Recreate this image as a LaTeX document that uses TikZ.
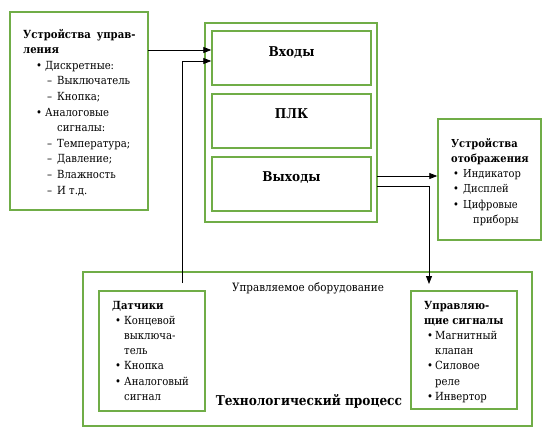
\documentclass[tikz,border=0pt]{standalone}
\usepackage{fontspec}
\IfFontExistsTF{DejaVu Serif Condensed}
 {\setmainfont{DejaVu Serif Condensed}}
 {\setmainfont{DejaVu Serif}}
\usetikzlibrary{arrows.meta}
\definecolor{gr}{HTML}{70AD47}
\newcommand\Lb{\hspace*{13pt}\makebox[9pt][l]{•}}
\newcommand\Ld{\hspace*{24pt}\makebox[10pt][l]{–}}
\newcommand\Bl[2]{\hspace*{#1}\makebox[#2][l]{•}}
\tikzset{
  box/.style={draw=gr, line width=1.4pt, inner sep=0pt},
  arr/.style={line width=0.8pt, -{Triangle[length=8pt,width=6pt]}},
  big/.style={font=\fontsize{13.5}{16}\selectfont\bfseries},
  lst/.style={anchor=base west, inner sep=0pt},
}
\begin{document}
\begin{tikzpicture}[x=1pt,y=-1pt]
\useasboundingbox (0,0) rectangle (550,429);
% boxes
\node[box, minimum width=138pt, minimum height=198pt] (left) at (79,111) {};
\node[box, minimum width=172pt, minimum height=199pt] (plc) at (291,122.5) {};
\node[box, minimum width=159pt, minimum height=54pt] (in) at (291.5,58) {};
\node[box, minimum width=159pt, minimum height=54pt] (cpu) at (291.5,121) {};
\node[box, minimum width=159pt, minimum height=54pt] (out) at (291.5,184) {};
\node[box, minimum width=103pt, minimum height=121pt] (disp) at (489.5,179.5) {};
\node[box, minimum width=449pt, minimum height=154pt] (proc) at (307.5,349) {};
\node[box, minimum width=106pt, minimum height=120pt] (sens) at (152,351) {};
\node[box, minimum width=106pt, minimum height=118pt] (act) at (464,350) {};
% labels
\node[big, anchor=base] (tin) at (291.5,56) {Входы};
\node[big, anchor=base] (tcpu) at (291.5,118) {ПЛК};
\node[big, anchor=base] (tout) at (291.5,181) {Выходы};
\node[anchor=base, inner sep=0pt, font=\fontsize{11.5}{14}\selectfont] (tequip) at (308,291) {Управляемое оборудование};
\node[big, anchor=base] (tproc) at (309,405) {Технологический процесс};
% left list
\node[lst] (tleft) at (23,38) {\parbox[t]{130pt}{\fontsize{11.2}{15.6}\selectfont\raggedright
\textbf{Устройства\hspace{6pt}управ-}\\
\textbf{ления}\\
\Lb Дискретные:\\
\Ld Выключатель\\
\Ld Кнопка;\\
\Lb Аналоговые\\
\hspace*{34pt}сигналы:\\
\Ld Температура;\\
\Ld Давление;\\
\Ld Влажность\\
\Ld И т.д.}};
% display list
\node[lst] (tdisp) at (451,147) {\parbox[t]{90pt}{\fontsize{11}{15.3}\selectfont\raggedright
\textbf{Устройства}\\
\textbf{отображения}\\
\Bl{2pt}{10pt}Индикатор\\
\Bl{2pt}{10pt}Дисплей\\
\Bl{2pt}{10pt}Цифровые\\
\hspace*{22pt}приборы}};
% sensors list
\node[lst] (tsens) at (112,309) {\parbox[t]{92pt}{\fontsize{11.2}{15.2}\selectfont\raggedright
\textbf{Датчики}\\
\Bl{3pt}{9pt}Концевой\\
\hspace*{12pt}выключа-\\
\hspace*{12pt}тель\\
\Bl{3pt}{9pt}Кнопка\\
\Bl{3pt}{9pt}Аналоговый\\
\hspace*{12pt}сигнал}};
% actuators list
\node[lst] (tact) at (424,309) {\parbox[t]{92pt}{\fontsize{11.2}{15.2}\selectfont\raggedright
\textbf{Управляю-}\\
\textbf{щие сигналы}\\
\Bl{3pt}{8pt}Магнитный\\
\hspace*{11pt}клапан\\
\Bl{3pt}{8pt}Силовое\\
\hspace*{11pt}реле\\
\Bl{3pt}{8pt}Инвертор}};
% connectors
\coordinate (a1) at (148,50);
\draw[arr] (a1) -- (a1 -| in.west);
\coordinate (s0) at (182,283);
\coordinate (s1) at (182,61);
\draw[arr] (s0) -- (s1) -- (s1 -| in.west);
\coordinate (o1) at (377,176);
\draw[arr] (o1) -- (o1 -| disp.west);
\coordinate (o2) at (377,186);
\coordinate (o3) at (429,186);
\coordinate (o4) at (429,284);
\draw[arr] (o2) -- (o3) -- (o4);
\end{tikzpicture}
\end{document}
